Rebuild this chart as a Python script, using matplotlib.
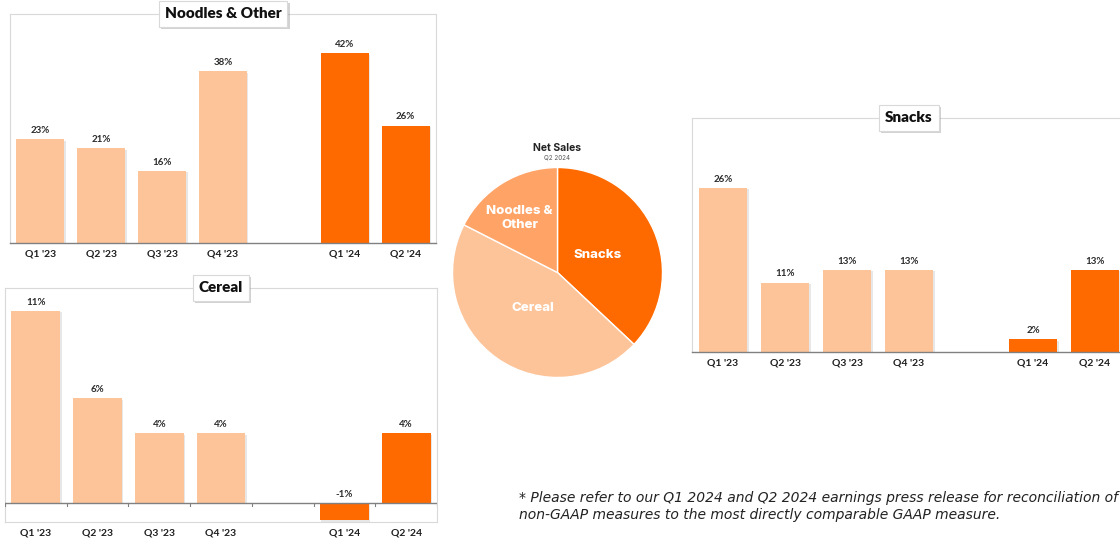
import matplotlib.pyplot as plt
import matplotlib.patheffects as pe

W, H = 1120, 540

quarters = ["Q1 '23", "Q2 '23", "Q3 '23", "Q4 '23", "Q1 '24", "Q2 '24"]
slots = [0, 1, 2, 3, 5, 6]          # slot 4 is left empty between the two years
noodles_growth = [23, 21, 16, 38, 42, 26]
cereal_growth = [11, 6, 4, 4, -1, 4]
snacks_growth = [26, 11, 13, 13, 2, 13]

pie_labels = ['Snacks', 'Cereal', 'Noodles &\nOther']
pie_share = [37, 45.5, 17.5]

LIGHT = '#FDC49A'
DARK = '#FF6A00'
FRAME = '#D9D9D9'
AXIS = '#808080'
bar_colors = [LIGHT] * 4 + [DARK] * 2

plt.rcParams['font.family'] = ['Lato', 'DejaVu Sans']

fig = plt.figure(figsize=(W / 100, H / 100), dpi=100)


def px_axes(x0, y0, x1, y1):
    return fig.add_axes([x0 / W, 1 - y1 / H, (x1 - x0) / W, (y1 - y0) / H])


bar_shadow = [pe.withSimplePatchShadow(offset=(1, -1), shadow_rgbFace='#b0b0b0', alpha=0.3)]
box_shadow = [pe.withSimplePatchShadow(offset=(1.5, -1.5), shadow_rgbFace='#909090', alpha=0.4)]


def growth_panel(rect, title, values, ylim):
    ax = px_axes(*rect)
    bars = ax.bar(slots, values, width=0.79, color=bar_colors, zorder=2)
    for b in bars:
        b.set_path_effects(bar_shadow)
    for x, v in zip(slots, values):
        ax.annotate(f'{v}%', (x, max(v, 0)), xytext=(0, 3), textcoords='offset points',
                    ha='center', va='bottom', fontsize=7, fontweight='bold', color='#2b2b2b')
    ax.set_xlim(-0.5, 6.5)
    ax.set_ylim(*ylim)
    ax.set_yticks([])
    ax.set_xticks(slots)
    ax.set_xticklabels(quarters, fontsize=7.5, fontweight='bold', color='#1f1f1f')
    ax.tick_params(axis='x', length=0, pad=5)
    for s in ax.spines.values():
        s.set_color(FRAME)
        s.set_linewidth(0.8)
    if ylim[0] < 0:
        ax.axhline(0, color=AXIS, lw=1, zorder=3)
        for b in range(8):
            ax.plot([b - 0.5, b - 0.5], [0, -0.2], color=AXIS, lw=0.8, zorder=3)
    else:
        ax.spines['bottom'].set_color(AXIS)
        ax.spines['bottom'].set_linewidth(1)
    t = ax.text(0.5, 1.0, title, transform=ax.transAxes, ha='center', va='center',
                fontsize=11, fontweight='heavy', color='#111111', zorder=5,
                bbox=dict(boxstyle='square,pad=0.4', fc='white', ec=FRAME, lw=0.8))
    t.get_bbox_patch().set_path_effects(box_shadow)
    return ax


growth_panel((10, 14, 436, 243), 'Noodles & Other', noodles_growth, (0, 50.7))
growth_panel((5, 288, 437, 522), 'Cereal', cereal_growth, (-1.09, 12.32))
growth_panel((692, 118, 1126, 352), 'Snacks', snacks_growth, (0, 37.1))

# net sales mix pie
pax = px_axes(452.5, 167.5, 662.5, 377.5)
wedges, texts = pax.pie(pie_share, labels=pie_labels, colors=[DARK, LIGHT, '#FFA366'],
                        startangle=90, counterclock=False,
                        wedgeprops=dict(edgecolor='white', linewidth=1),
                        textprops=dict(color='white', fontsize=9.5, fontweight='heavy',
                                       family=['Inter', 'DejaVu Sans']))
label_pos = [(0.38, 0.17), (-0.23, -0.34), (-0.36, 0.52)]
for t, pos in zip(texts, label_pos):
    t.set_position(pos)
    t.set_ha('center')
    t.set_va('center')
    t.set_linespacing(1.3)
pax.set_xlim(-1, 1)
pax.set_ylim(-1, 1)

fig.text(557 / W, 1 - 148 / H, 'Net Sales', ha='center', va='center', fontsize=7.5,
         fontweight='bold', color='#222222', family=['Inter', 'DejaVu Sans'])
fig.text(557 / W, 1 - 158 / H, 'Q2 2024', ha='center', va='center', fontsize=4.5,
         color='#555555', family=['Inter', 'DejaVu Sans'])

note_font = dict(ha='left', va='center', fontsize=10, style='italic', color='#222222',
                 family=['DejaVu Sans'])
fig.text(519 / W, 1 - 498 / H,
         '* Please refer to our Q1 2024 and Q2 2024 earnings press release for reconciliation of',
         **note_font)
fig.text(519 / W, 1 - 515 / H,
         'non-GAAP measures to the most directly comparable GAAP measure.', **note_font)

fig.savefig('out.png', dpi=100)
